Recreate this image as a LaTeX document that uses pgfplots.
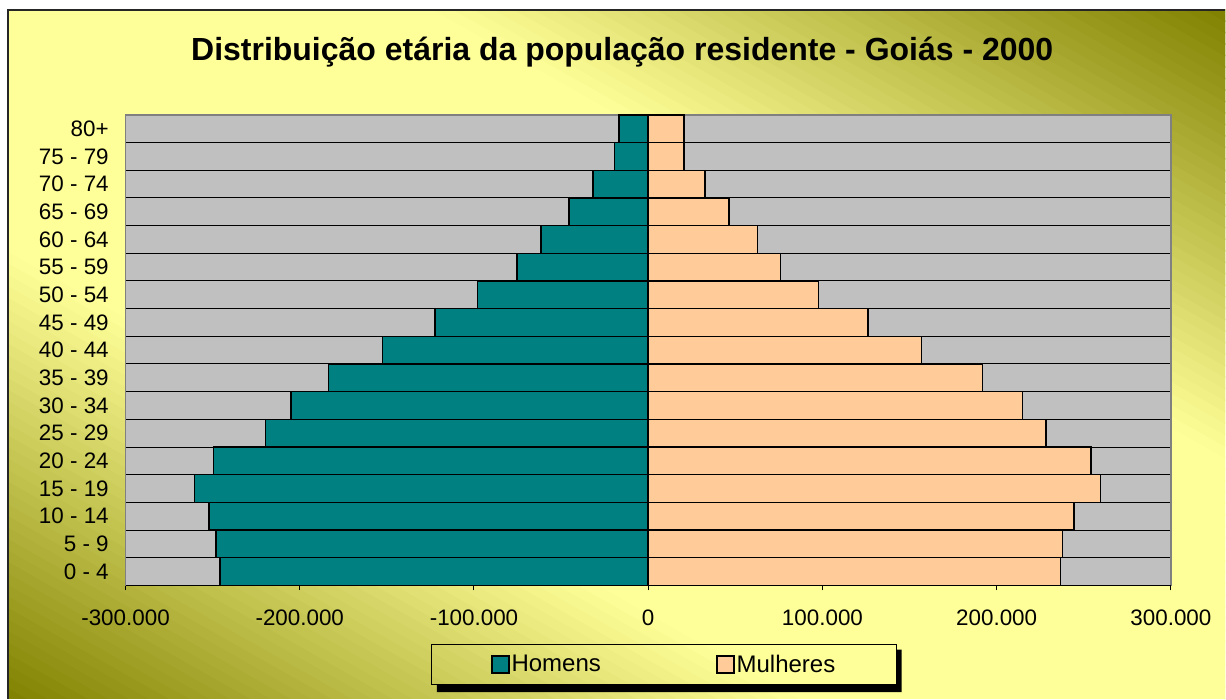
\documentclass[border=0pt]{standalone}
\usepackage{fontspec}
\setmainfont{Liberation Sans}
\usepackage{pgfplots}
\usepackage{pgfplotstable}
\pgfplotsset{compat=1.18}

\definecolor{olivebg}{RGB}{128,128,0}
\definecolor{lightbg}{RGB}{255,255,153}
\definecolor{plotgray}{RGB}{192,192,192}
\definecolor{framegray}{RGB}{128,128,128}
\definecolor{homens}{RGB}{0,128,128}
\definecolor{mulheres}{RGB}{255,204,153}

% idade: 0 = 0-4 ... 16 = 80+ ; homens negativos
\pgfplotstableread{
idx homens mulheres
0  -245700 236600
1  -248100 237800
2  -252100 244500
3  -260400 259500
4  -249400 254100
5  -219800 228400
6  -204900 214900
7  -183400 192000
8  -152500 156900
9  -122400 126100
10 -98000  97600
11 -75200  76000
12 -61600  62600
13 -45600  46400
14 -31600  32700
15 -19500  20500
16 -16900  20600
}\piramide

\begin{document}
\begin{tikzpicture}
\begin{scope}[x=0.75pt,y=0.75pt]
\fill[white] (0,0) rectangle (1226,699);
% fundo em degradê (faixas paralelas à diagonal)
\begin{scope}
  \clip (8,0) rectangle (1226,689);
  \begin{scope}[rotate around={-29.5:(617,344.5)}]
    \foreach \i in {0,...,119}{
      \pgfmathsetmacro\s{abs(-600+10*\i+5)/600}
      \pgfmathsetmacro\p{min(100,max(0,100*(1-(\s-0.35)/0.65)))}
      \fill[lightbg!\p!olivebg] (-283,{344.5-600+10*\i-0.6}) rectangle (1517,{344.5-600+10*\i+10.6});
    }
  \end{scope}
\end{scope}
\draw[black!85, line width=0.9pt] (8,0) -- (8,689) -- (1226,689);
\node[font=\fontsize{24}{28}\selectfont\bfseries] at (622.5,647)
  {Distribuição etária da população residente - Goiás - 2000};
% sombra da legenda
\fill[black] (897,49) -- (902,49) -- (902,6.5) -- (437,6.5) -- (437,14) -- (897,14) -- cycle;
\end{scope}

\begin{axis}[
  at={(94.2pt,85pt)}, anchor=south west,
  width=784.4pt, height=353pt, scale only axis,
  xbar, bar width=1, bar shift=0pt,
  xmin=-300000, xmax=300000,
  ymin=-0.5, ymax=16.5,
  xtick={-300000,-200000,-100000,0,100000,200000,300000},
  xticklabels={-300.000,-200.000,-100.000,0,100.000,200.000,300.000},
  scaled x ticks=false,
  ytick={0,...,16},
  yticklabels={0 - 4,5 - 9,10 - 14,15 - 19,20 - 24,25 - 29,30 - 34,35 - 39,
    40 - 44,45 - 49,50 - 54,55 - 59,60 - 64,65 - 69,70 - 74,75 - 79,80+},
  minor y tick num=1,
  yminorgrids,
  minor grid style={black, line width=0.75pt},
  minor tick length=0pt,
  axis background/.style={fill=plotgray},
  axis line style={framegray, line width=1.2pt},
  xtick pos=lower, ytick pos=left,
  tick align=outside,
  major tick length=3.75pt,
  xtick style={black, line width=0.75pt},
  ytick style={draw=none},
  tick label style={font=\fontsize{16.8}{19}\selectfont},
  xticklabel style={anchor=base, yshift=-26.5pt},
  yticklabel style={anchor=east, inner sep=0pt, xshift=-8.7pt},
  legend image code/.code={\draw[#1, line width=1.1pt] (0pt,-6.4pt) rectangle (12.75pt,6.4pt);},
  legend style={at={(0.5153,-0.1685)}, anchor=center, draw=black, line width=0.75pt,
    fill=none, legend columns=2, minimum width=348.75pt, minimum height=30pt,
    font=\fontsize{18}{21}\selectfont,
    nodes={inner sep=1.5pt, minimum width=0pt, minimum height=0pt},
    /tikz/every even column/.append style={column sep=85pt}},
  after end axis/.code={\draw[black, line width=1.2pt] (rel axis cs:0,0) -- (rel axis cs:1,0);},
]
\addplot[fill=homens, draw=black, line width=1.1pt] table[x=homens, y=idx] {\piramide};
\addplot[fill=mulheres, draw=black, line width=1.1pt] table[x=mulheres, y=idx] {\piramide};
\legend{Homens, Mulheres}
\end{axis}
\end{tikzpicture}
\end{document}
